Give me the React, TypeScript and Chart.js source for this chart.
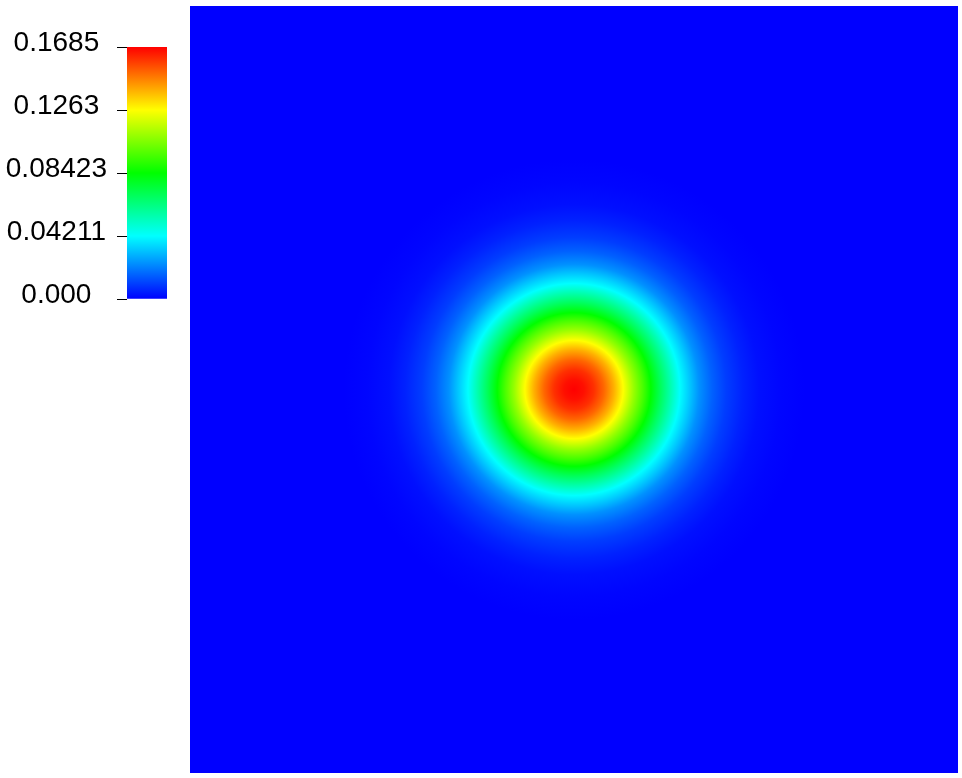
import React, { useEffect, useRef } from "react";
import { Chart, registerables } from "chart.js";

Chart.register(...registerables);

// ---- data ----
// field centre (domain 0..1 on both axes)
const centerX = 0.5;
const centerY = 0.5;
// radial profile of the scalar field: distance from centre (domain units) and value
const profileRadius = [0, 0.013, 0.026, 0.039, 0.052, 0.064, 0.078, 0.09, 0.1, 0.113, 0.126, 0.138, 0.152, 0.163, 0.18, 0.198, 0.22, 0.241, 0.27, 0.3];
const profileValue = [0.1685, 0.166, 0.1605, 0.1515, 0.1395, 0.1263, 0.109, 0.096, 0.0842, 0.069, 0.055, 0.0421, 0.032, 0.024, 0.016, 0.01, 0.0055, 0.0025, 0.0008, 0];
// colour bar
const rangeMin = 0;
const rangeMax = 0.1685;
const tickValues = [0, 0.04211, 0.08423, 0.1263, 0.1685];
const tickLabels = ["0.000", "0.04211", "0.08423", "0.1263", "0.1685"];
// colour map (blue -> cyan -> green -> yellow -> red)
const cmapPos = [0, 0.25, 0.5, 0.75, 1];
const cmapRGB = [
  [0, 0, 255],
  [0, 255, 255],
  [0, 255, 0],
  [255, 255, 0],
  [255, 0, 0],
];

function colorFor(v: number): string {
  let t = (v - rangeMin) / (rangeMax - rangeMin);
  t = Math.max(0, Math.min(1, t));
  for (let i = 0; i < cmapPos.length - 1; i++) {
    if (t <= cmapPos[i + 1]) {
      const f = (t - cmapPos[i]) / (cmapPos[i + 1] - cmapPos[i]);
      const a = cmapRGB[i];
      const b = cmapRGB[i + 1];
      const c = a.map((x, k) => Math.round(x + (b[k] - x) * f));
      return `rgb(${c[0]},${c[1]},${c[2]})`;
    }
  }
  const l = cmapRGB[cmapRGB.length - 1];
  return `rgb(${l[0]},${l[1]},${l[2]})`;
}

const fieldPlugin = {
  id: "fieldPlugin",
  beforeDatasetsDraw(chart: any) {
    const { ctx, chartArea } = chart;
    const xs = chart.scales.x;
    const ys = chart.scales.y;
    const pts = chart.data.datasets[0].data as any[];
    ctx.save();
    ctx.beginPath();
    ctx.rect(chartArea.left, chartArea.top, chartArea.right - chartArea.left, chartArea.bottom - chartArea.top);
    ctx.clip();
    ctx.fillStyle = colorFor(rangeMin);
    ctx.fillRect(chartArea.left, chartArea.top, chartArea.right - chartArea.left, chartArea.bottom - chartArea.top);
    const px = xs.getPixelForValue(centerX);
    const py = ys.getPixelForValue(centerY);
    const rMaxPx = xs.getPixelForValue(pts[pts.length - 1].x) - px;
    const g = ctx.createRadialGradient(px, py, 0, px, py, rMaxPx);
    pts.forEach((p: any) => {
      const rp = xs.getPixelForValue(p.x) - px;
      g.addColorStop(Math.min(1, rp / rMaxPx), colorFor(p.v));
    });
    ctx.fillStyle = g;
    ctx.beginPath();
    ctx.arc(px, py, rMaxPx, 0, Math.PI * 2);
    ctx.fill();
    ctx.restore();
  },
};

export default function App() {
  const fieldRef = useRef<HTMLCanvasElement>(null);
  const barRef = useRef<HTMLCanvasElement>(null);

  useEffect(() => {
    const field = new Chart(fieldRef.current as HTMLCanvasElement, {
      type: "scatter",
      data: {
        datasets: [
          {
            data: profileRadius.map((r, i) => ({ x: centerX + r, y: centerY, v: profileValue[i] })) as any,
            pointRadius: 0,
            showLine: false,
          },
        ],
      },
      options: {
        responsive: false,
        animation: false,
        events: [],
        layout: { padding: { left: 190, top: 6, right: 4, bottom: 5 } },
        plugins: { legend: { display: false }, tooltip: { enabled: false } },
        scales: {
          x: { type: "linear", min: 0, max: 1, display: false },
          y: { type: "linear", min: 0, max: 1, display: false },
        },
      },
      plugins: [fieldPlugin],
    });

    const bar = new Chart(barRef.current as HTMLCanvasElement, {
      type: "bar",
      data: {
        labels: [""],
        datasets: [
          {
            data: [[rangeMin, rangeMax]] as any,
            barPercentage: 1,
            categoryPercentage: 1,
            borderWidth: 0,
            backgroundColor: (c: any) => {
              const ch = c.chart;
              if (!ch.chartArea) return colorFor(rangeMin);
              const ys = ch.scales.y;
              const y0 = ys.getPixelForValue(rangeMin);
              const y1 = ys.getPixelForValue(rangeMax);
              const g = ch.ctx.createLinearGradient(0, y0, 0, y1);
              cmapPos.forEach((p) => g.addColorStop(p, colorFor(rangeMin + p * (rangeMax - rangeMin))));
              return g;
            },
          },
        ],
      },
      options: {
        responsive: false,
        animation: false,
        events: [],
        layout: { padding: { left: 0, top: 47, right: 13, bottom: 31 } },
        plugins: { legend: { display: false }, tooltip: { enabled: false } },
        scales: {
          x: { display: false },
          y: {
            type: "linear",
            min: rangeMin,
            max: rangeMax,
            afterBuildTicks: (scale: any) => {
              scale.ticks = tickValues.map((v) => ({ value: v }));
            },
            afterFit: (scale: any) => {
              scale.width = 127;
            },
            border: { display: false },
            grid: {
              display: true,
              drawOnChartArea: false,
              drawTicks: true,
              tickLength: 10,
              color: "#000",
              lineWidth: 1,
            },
            ticks: {
              crossAlign: "center",
              padding: 10,
              color: "#000",
              font: { family: "'Liberation Sans', Arial, sans-serif", size: 28, lineHeight: "8px" },
              callback: (_v: any, i: number) => [tickLabels[i], ""],
            },
          },
        },
      },
    });

    return () => {
      field.destroy();
      bar.destroy();
    };
  }, []);

  return (
    <div style={{ position: "absolute", left: 0, top: 0, width: 962, height: 778 }}>
      <canvas ref={fieldRef} width={962} height={778} style={{ position: "absolute", left: 0, top: 0, width: 962, height: 778 }} />
      <canvas ref={barRef} width={180} height={330} style={{ position: "absolute", left: 0, top: 0, width: 180, height: 330 }} />
    </div>
  );
}
